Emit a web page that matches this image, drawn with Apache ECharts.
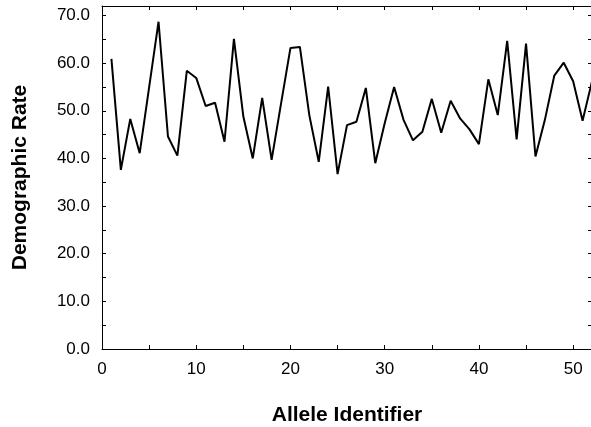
<!DOCTYPE html>
<html lang="en">
<head>
	<meta charset="UTF-8">
	<title>Demographic Rate by Allele</title>
	<style>
		html, body { margin: 0; padding: 0; background: #fff; }
	</style>
</head>
<body>
	<div id="main" style="width: 591px;height: 427px"></div>
	<script src="https://cdn.jsdelivr.net/npm/echarts@6/dist/echarts.min.js"></script>
	<script>
		// allele ids 1..52
		var alleleIds = [];
		for (var i = 1; i <= 52; i++) alleleIds.push(i);

		// values
		var rateValues = [
			60.9, 37.6, 48.3, 41.1, 54.9, 68.7, 44.6, 40.6, 58.4, 56.9,
			51.0, 51.7, 43.5, 65.1, 48.8, 40.0, 52.7, 39.7, 51.5, 63.2,
			63.4, 49.1, 39.3, 55.1, 36.7, 47.0, 47.7, 54.8, 39.0, 47.4,
			55.0, 48.1, 43.8, 45.6, 52.5, 45.4, 52.1, 48.4, 46.1, 43.0,
			56.6, 49.1, 64.7, 44.0, 64.1, 40.4, 48.1, 57.4, 60.1, 56.2,
			47.9, 56.2
		];

		var xMax = 52, yMax = 72;
		var fontFam = 'Liberation Sans, Arial, sans-serif';

		var pairs = alleleIds.map(function(id, k) { return [id, rateValues[k]]; });

		var tickStyle = { show: true, inside: true, length: 4, lineStyle: { color: '#000', width: 1 } };
		var lineStyle = { show: true, onZero: false, lineStyle: { color: '#000', width: 1 } };

		var myChart = echarts.init(document.getElementById('main'));
		var option = {
			animation: false,
			grid: { left: 102, right: -1, top: 6, bottom: 78, containLabel: false, outerBoundsMode: 'none' },
			xAxis: [
				{
					type: 'value', min: 0, max: xMax, interval: 5,
					axisLine: lineStyle, axisTick: tickStyle, splitLine: { show: false },
					axisLabel: {
						color: '#000', fontSize: 17, fontFamily: fontFam, margin: 12,
						formatter: function(v) { return v % 10 === 0 ? String(v) : ''; }
					},
					name: 'Allele Identifier', nameLocation: 'middle', nameGap: 56,
					nameTextStyle: { color: '#000', fontSize: 21, fontWeight: 'bold', fontFamily: fontFam }
				},
				{
					type: 'value', position: 'top', min: 0, max: xMax, interval: 5,
					axisLine: lineStyle, axisTick: tickStyle, splitLine: { show: false },
					axisLabel: { show: false }
				}
			],
			yAxis: [
				{
					type: 'value', min: 0, max: yMax, interval: 5,
					axisLine: lineStyle, axisTick: tickStyle, splitLine: { show: false },
					axisLabel: {
						color: '#000', fontSize: 17, fontFamily: fontFam, margin: 12,
						formatter: function(v) { return v % 10 === 0 ? v.toFixed(1) : ''; }
					},
					name: 'Demographic Rate', nameLocation: 'middle', nameGap: 71,
					nameTextStyle: { color: '#000', fontSize: 21, fontWeight: 'bold', fontFamily: fontFam }
				},
				{
					type: 'value', position: 'right', min: 0, max: yMax, interval: 5,
					axisLine: lineStyle, axisTick: tickStyle, splitLine: { show: false },
					axisLabel: { show: false }
				}
			],
			series: [
				{
					type: 'line',
					data: pairs,
					showSymbol: false,
					clip: true,
					lineStyle: { color: '#000', width: 2 }
				}
			]
		};

		myChart.setOption(option);
	</script>
</body>
</html>
